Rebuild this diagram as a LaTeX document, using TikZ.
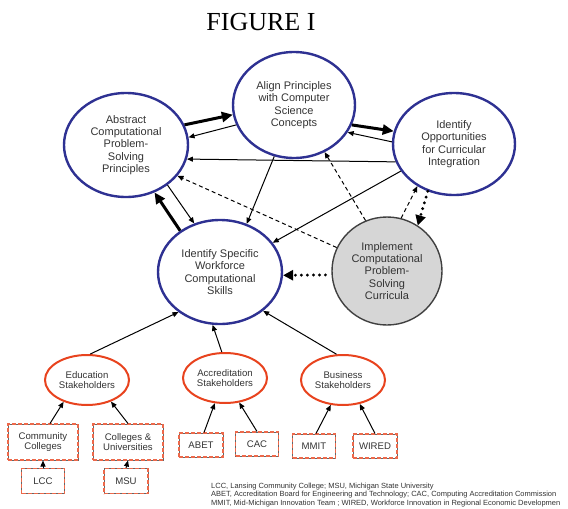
\documentclass[tikz,border=0pt]{standalone}
\usepackage{fontspec}
\setmainfont{Liberation Sans}
\newfontfamily\titlefont{Liberation Serif}
\usetikzlibrary{arrows.meta,shapes.geometric}
\definecolor{navy}{HTML}{2E3192}
\definecolor{orng}{HTML}{E8431E}
\definecolor{txt}{HTML}{333333}
\begin{document}
\begin{tikzpicture}[x=1pt,y=-1pt,
  bigell/.style={ellipse, draw=navy, line width=2.4pt, inner sep=0pt,
    minimum width=124pt, minimum height=104pt, align=center,
    font=\fontsize{11}{12.4}\selectfont, text=txt},
  implell/.style={ellipse, draw=black!75, line width=1.4pt, fill=black!16,
    inner sep=0pt, minimum width=110pt, minimum height=108pt, align=center,
    font=\fontsize{11}{12.4}\selectfont, text=txt},
  stakell/.style={ellipse, draw=orng, line width=2pt, inner sep=0pt,
    minimum width=84pt, minimum height=50pt, align=center,
    font=\fontsize{9.6}{10.6}\selectfont, text=txt},
  orgbox/.style={rectangle, draw=black!60, line width=1pt,
    postaction={draw=orng!80, line width=1.1pt, dash pattern=on 4pt off 2pt},
    inner sep=0pt, align=center, font=\fontsize{9.6}{10.8}\selectfont, text=txt},
  smallarr/.style={-{Triangle[length=6pt,width=5pt]}, line width=1pt},
  bigarr/.style={-{Triangle[length=11pt,width=10pt]}, line width=3pt},
  dasharr/.style={-{Triangle[length=6pt,width=5pt]}, line width=1pt, dash pattern=on 4pt off 3pt},
  dotarr/.style={-{Triangle[length=10pt,width=10pt]}, line width=3.2pt, line cap=round, dash pattern=on 0pt off 6pt}
]
\useasboundingbox (0,0) rectangle (568,509);

\node[font=\titlefont\fontsize{26}{26}\selectfont, anchor=base, inner sep=0pt] (title) at (261,30) {FIGURE I};

\node[bigell] (abs) at (126,145) {Abstract\\Computational\\Problem-\\Solving\\Principles};
\node[bigell, minimum width=122pt, minimum height=106pt] (align) at (294,105) {Align Principles\\with Computer\\Science\\Concepts};
\node[bigell, minimum width=122pt, minimum height=102pt] (opp) at (454,144) {Identify\\Opportunities\\for Curricular\\Integration};
\node[bigell] (spec) at (220,272) {Identify Specific\\Workforce\\Computational\\Skills};
\node[implell] (impl) at (387,271) {Implement\\Computational\\Problem-\\Solving\\Curricula};

\node[stakell] (edu) at (87,380) {Education\\Stakeholders};
\node[stakell] (acc) at (225,378) {Accreditation\\Stakeholders};
\node[stakell] (bus) at (343,380) {Business\\Stakeholders};

\node[orgbox, minimum width=70pt, minimum height=36pt] (cc) at (43,442) {Community\\Colleges};
\node[orgbox, minimum width=70pt, minimum height=36pt] (col) at (128,442) {Colleges \&\\Universities};
\node[orgbox, minimum width=44pt, minimum height=24pt] (abet) at (201,445) {ABET};
\node[orgbox, minimum width=43pt, minimum height=24pt] (cac) at (257,444) {CAC};
\node[orgbox, minimum width=43pt, minimum height=24pt] (mmit) at (314,446) {MMIT};
\node[orgbox, minimum width=44pt, minimum height=24pt] (wired) at (375,446) {WIRED};
\node[orgbox, minimum width=43pt, minimum height=25pt] (lcc) at (43,481) {LCC};
\node[orgbox, minimum width=44pt, minimum height=25pt] (msu) at (126,481) {MSU};

\node[anchor=north west, align=left, inner sep=0pt, text=txt,
  font=\fontsize{7.5}{8.2}\selectfont] (note) at (211,483)
  {LCC, Lansing Community College; MSU, Michigan State University\\
   ABET, Accreditation Board for Engineering and Technology; CAC, Computing Accreditation Commission\\
   MMIT, Mid-Michigan Innovation Team ; WIRED, Workforce Innovation in Regional Economic Developmen};

% upper cycle
\draw[bigarr] (abs.19) -- (align.189);
\draw[smallarr] (align.199) -- (abs.7);
\draw[bigarr] (align.341) -- (opp.168);
\draw[smallarr] (opp.178) -- (align.333);
\draw[smallarr] (opp.197) -- (abs.347);
\draw[smallarr] (align.249) -- (spec.61);
\draw[smallarr] (abs.316) -- (spec.118);
\draw[bigarr] (spec.134) -- (abs.301);
\draw[dasharr] (impl.155) -- (abs.329);
\draw[dasharr] (impl.113) -- (align.303);
\draw[dasharr] (impl.75) -- (opp.229);
\draw[dotarr] (opp.241) -- (impl.56);
\draw[smallarr] (opp.207) -- (spec.29);
\draw[dotarr, shorten <=6pt] (impl.184) -- (spec.357);

% stakeholders
\draw[smallarr] (edu.83) -- (spec.224);
\draw[smallarr] (acc.97) -- (spec.262);
\draw[smallarr] (bus.104) -- (spec.318);
\draw[smallarr] ([xshift=7pt]cc.north) -- (edu.223);
\draw[smallarr] (col.north) -- (edu.318);
\draw[smallarr] ([xshift=3pt]abet.north) -- (acc.248);
\draw[smallarr] (cac.north) -- (acc.300);
\draw[smallarr] ([xshift=2pt]mmit.north) -- (bus.244);
\draw[smallarr] (wired.north) -- (bus.305);
\draw[smallarr] (lcc.north) -- (cc.south);
\draw[smallarr] (msu.north) -- (col.south);
\end{tikzpicture}
\end{document}
